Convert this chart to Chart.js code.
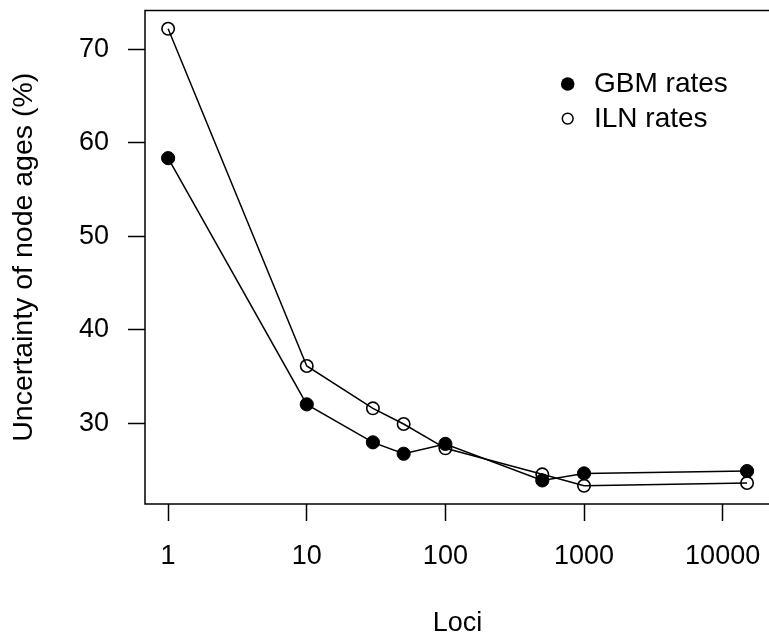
<!DOCTYPE html>
<html>
<head>
<meta charset="utf-8">
<script src="https://cdn.jsdelivr.net/npm/chart.js@4"></script>
<style>
  html, body { margin: 0; padding: 0; background: #fff; overflow: hidden; }
  #wrap { width: 772px; height: 637px; }
</style>
</head>
<body>
<div id="wrap"><canvas id="lociChart" width="772" height="637"></canvas></div>
<script>
// Données
const loci = [1, 10, 30, 50, 100, 500, 1000, 15000];
const gbmRates = [58.34, 32.03, 27.97, 26.75, 27.8, 23.9, 24.65, 24.9];
const ilnRates = [72.17, 36.13, 31.6, 29.93, 27.33, 24.55, 23.33, 23.62];
const xTicks = [1, 10, 100, 1000, 10000];
const yTicks = [30, 40, 50, 60, 70];

const FONT = '"Liberation Sans", Arial, Helvetica, sans-serif';

const toPoints = ys => loci.map((x, i) => ({ x: x, y: ys[i] }));

// Cadre autour de la zone du graphique + légende à la R
const boxPlugin = {
    id: 'rBox',
    afterDraw(chart) {
        const { ctx, chartArea: a } = chart;
        ctx.save();
        ctx.strokeStyle = '#000';
        ctx.lineWidth = 1.5;
        ctx.strokeRect(a.left, a.top, a.right - a.left, a.bottom - a.top);

        // légende
        const rows = [84, 118.6];
        ctx.font = '28px ' + FONT;
        ctx.textBaseline = 'middle';
        ctx.textAlign = 'left';
        chart.data.datasets.forEach((ds, i) => {
            const y = rows[i];
            ctx.beginPath();
            if (ds.pointBackgroundColor === '#000') {
                ctx.arc(567.7, y, 6.8, 0, Math.PI * 2);
                ctx.fillStyle = '#000';
                ctx.fill();
            } else {
                ctx.arc(567.7, y, 5.4, 0, Math.PI * 2);
                ctx.lineWidth = 1.5;
                ctx.stroke();
            }
            ctx.fillStyle = '#000';
            ctx.fillText(ds.label, 594, y + 0.5);
        });
        ctx.restore();
    }
};

new Chart(document.getElementById('lociChart'), {
    type: 'scatter',
    data: {
        datasets: [{
            label: 'GBM rates',
            data: toPoints(gbmRates),
            showLine: true,
            borderColor: '#000',
            borderWidth: 1.5,
            pointBackgroundColor: '#000',
            pointBorderColor: '#000',
            pointBorderWidth: 1,
            pointRadius: 6.6
        }, {
            label: 'ILN rates',
            data: toPoints(ilnRates),
            showLine: true,
            borderColor: '#000',
            borderWidth: 1.5,
            pointBackgroundColor: 'rgba(0,0,0,0)',
            pointBorderColor: '#000',
            pointBorderWidth: 1.6,
            pointRadius: 6.2
        }]
    },
    options: {
        responsive: false,
        animation: false,
        clip: false,
        layout: {
            autoPadding: false,
            padding: { left: 0, top: 10.5, right: 1.8, bottom: 0 }
        },
        plugins: {
            legend: { display: false },
            tooltip: { enabled: false }
        },
        scales: {
            x: {
                type: 'logarithmic',
                min: 0.681,
                max: 22030,
                border: { display: false },
                grid: { drawOnChartArea: false, tickLength: 17, tickWidth: 1.5, tickColor: '#000' },
                ticks: {
                    color: '#000',
                    font: { family: FONT, size: 27, lineHeight: 2.667 },
                    padding: 0,
                    autoSkip: false,
                    maxRotation: 0,
                    callback: v => String(v)
                },
                title: {
                    display: true,
                    text: 'Loci',
                    color: '#000',
                    font: { family: FONT, size: 27, lineHeight: 1 },
                    padding: { top: 0, bottom: 0 }
                },
                afterBuildTicks: s => { s.ticks = xTicks.map(v => ({ value: v })); },
                afterFit: s => { s.height = 133; s.paddingLeft = 0; s.paddingRight = 0; }
            },
            y: {
                min: 21.38,
                max: 74.12,
                border: { display: false },
                grid: { drawOnChartArea: false, tickLength: 17, tickWidth: 1.5, tickColor: '#000' },
                ticks: {
                    color: '#000',
                    font: { family: FONT, size: 27 },
                    padding: 19
                },
                title: {
                    display: true,
                    text: 'Uncertainty of node ages (%)',
                    color: '#000',
                    font: { family: FONT, size: 28.5, lineHeight: 1 },
                    padding: { top: 10.3, bottom: 0 }
                },
                afterBuildTicks: s => { s.ticks = yTicks.map(v => ({ value: v })); },
                afterFit: s => { s.width = 145; s.paddingTop = 0; s.paddingBottom = 0; }
            }
        }
    },
    plugins: [boxPlugin]
});
</script>
</body>
</html>
